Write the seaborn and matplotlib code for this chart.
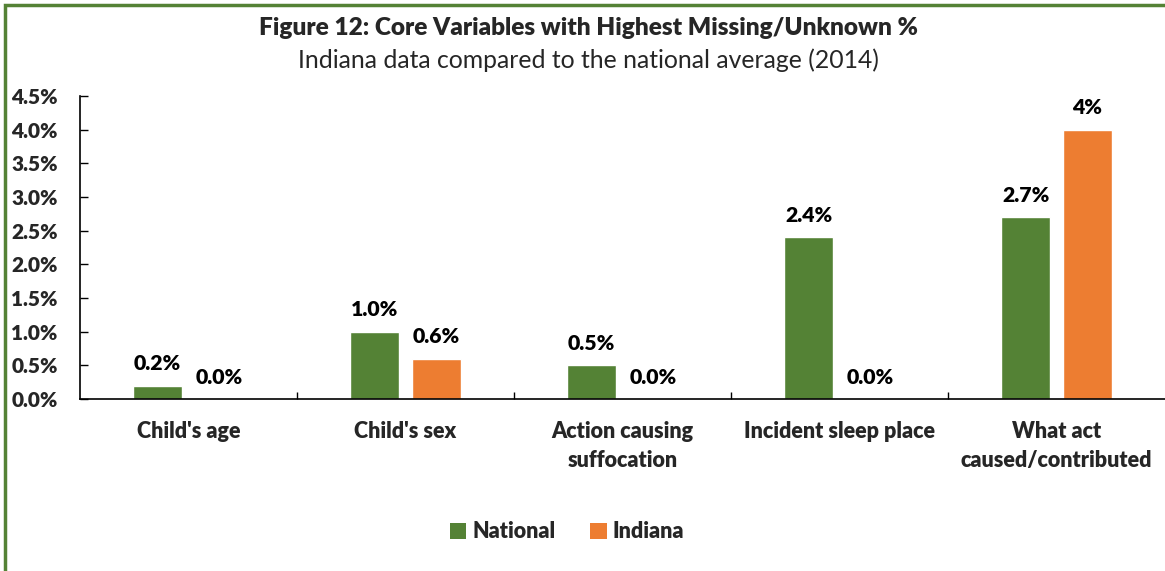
import matplotlib
matplotlib.use("Agg")
import matplotlib.pyplot as plt
from matplotlib.patches import Rectangle, Patch
from matplotlib.ticker import FuncFormatter, FixedLocator
import seaborn as sns
import pandas as pd

categories = ["Child's age", "Child's sex", "Action causing\nsuffocation",
              "Incident sleep place", "What act\ncaused/contributed"]
national = [0.2, 1.0, 0.5, 2.4, 2.7]
indiana = [0.0, 0.6, 0.0, 0.0, 4.0]
national_labels = ["0.2%", "1.0%", "0.5%", "2.4%", "2.7%"]
indiana_labels = ["0.0%", "0.6%", "0.0%", "0.0%", "4%"]
series = ["National", "Indiana"]
colors = {"National": "#548235", "Indiana": "#ED7D31"}
yticks = [0.0, 0.5, 1.0, 1.5, 2.0, 2.5, 3.0, 3.5, 4.0, 4.5]

sns.set_theme(style="white")
plt.rcParams['font.family'] = ['Lato', 'DejaVu Sans']

df = pd.DataFrame({
    "category": categories * 2,
    "series": ["National"] * len(categories) + ["Indiana"] * len(categories),
    "value": national + indiana,
    "label": national_labels + indiana_labels,
})

fig = plt.figure(figsize=(11.65, 5.71), dpi=100)
ax = fig.add_axes([80 / 1165, 1 - 399 / 571, 1 - 80 / 1165, (399 - 96) / 571])

sns.barplot(data=df, x="category", y="value", hue="series", hue_order=series,
            order=categories, palette=colors, width=0.57, gap=0.21,
            saturation=1, ax=ax, legend=False, errorbar=None)

W = "heavy"

# data labels
for cont, labs in zip(ax.containers, [national_labels, indiana_labels]):
    for bar, lab in zip(cont, labs):
        x = bar.get_x() + bar.get_width() / 2
        h = bar.get_height()
        ax.annotate(lab, (x, h), xytext=(0, 9), textcoords="offset points",
                    ha="center", va="bottom", fontsize=15.3, fontweight=W,
                    color="black")

ax.set_ylim(0, 4.5)
ax.set_xlim(-0.5, len(categories) - 0.5)
ax.yaxis.set_major_locator(FixedLocator(yticks))
ax.yaxis.set_major_formatter(FuncFormatter(lambda v, p: f"{v:.1f}%"))
ax.set_xlabel("")
ax.set_ylabel("")

for s in ["top", "right"]:
    ax.spines[s].set_visible(False)
for s in ["left", "bottom"]:
    ax.spines[s].set_color("black")
    ax.spines[s].set_linewidth(1.2)

ax.tick_params(axis="y", direction="in", length=6, width=1, color="black",
               pad=16, labelsize=15, left=True)
for t in ax.get_yticklabels():
    t.set_fontweight(W)
ax.tick_params(axis="x", which="major", length=0, pad=16, labelsize=15.5)
ax.set_xticks(range(len(categories)))
ax.set_xticklabels(categories, fontweight=W, linespacing=1.45, va="top")
ax.set_xticks([i + 0.5 for i in range(len(categories) - 1)], minor=True)
ax.tick_params(axis="x", which="minor", direction="in", length=5, width=1,
               color="black", bottom=True)

fig.text(0.505, 1 - 28 / 571, "Figure 12: Core Variables with Highest Missing/Unknown %",
         ha="center", va="center", fontsize=17.6, fontweight=W)
fig.text(0.505, 1 - 60 / 571, "Indiana data compared to the national average (2014)",
         ha="center", va="center", fontsize=17.8)

handles = [Patch(facecolor=colors[s], edgecolor="none", label=s) for s in series]
fig.legend(handles=handles, loc="center", bbox_to_anchor=(0.487, 1 - 532 / 571),
           ncol=2, frameon=False, handlelength=0.75, handleheight=0.75,
           handletextpad=0.3, columnspacing=1.6,
           prop={"weight": W, "size": 15.5})

fig.patches.append(Rectangle((5 / 1165, -0.1), 1.2, 1 - 5 / 571 + 0.1,
                             transform=fig.transFigure, fill=False,
                             edgecolor="#548235", linewidth=2.5, zorder=10))

fig.savefig("out.png", dpi=100)
